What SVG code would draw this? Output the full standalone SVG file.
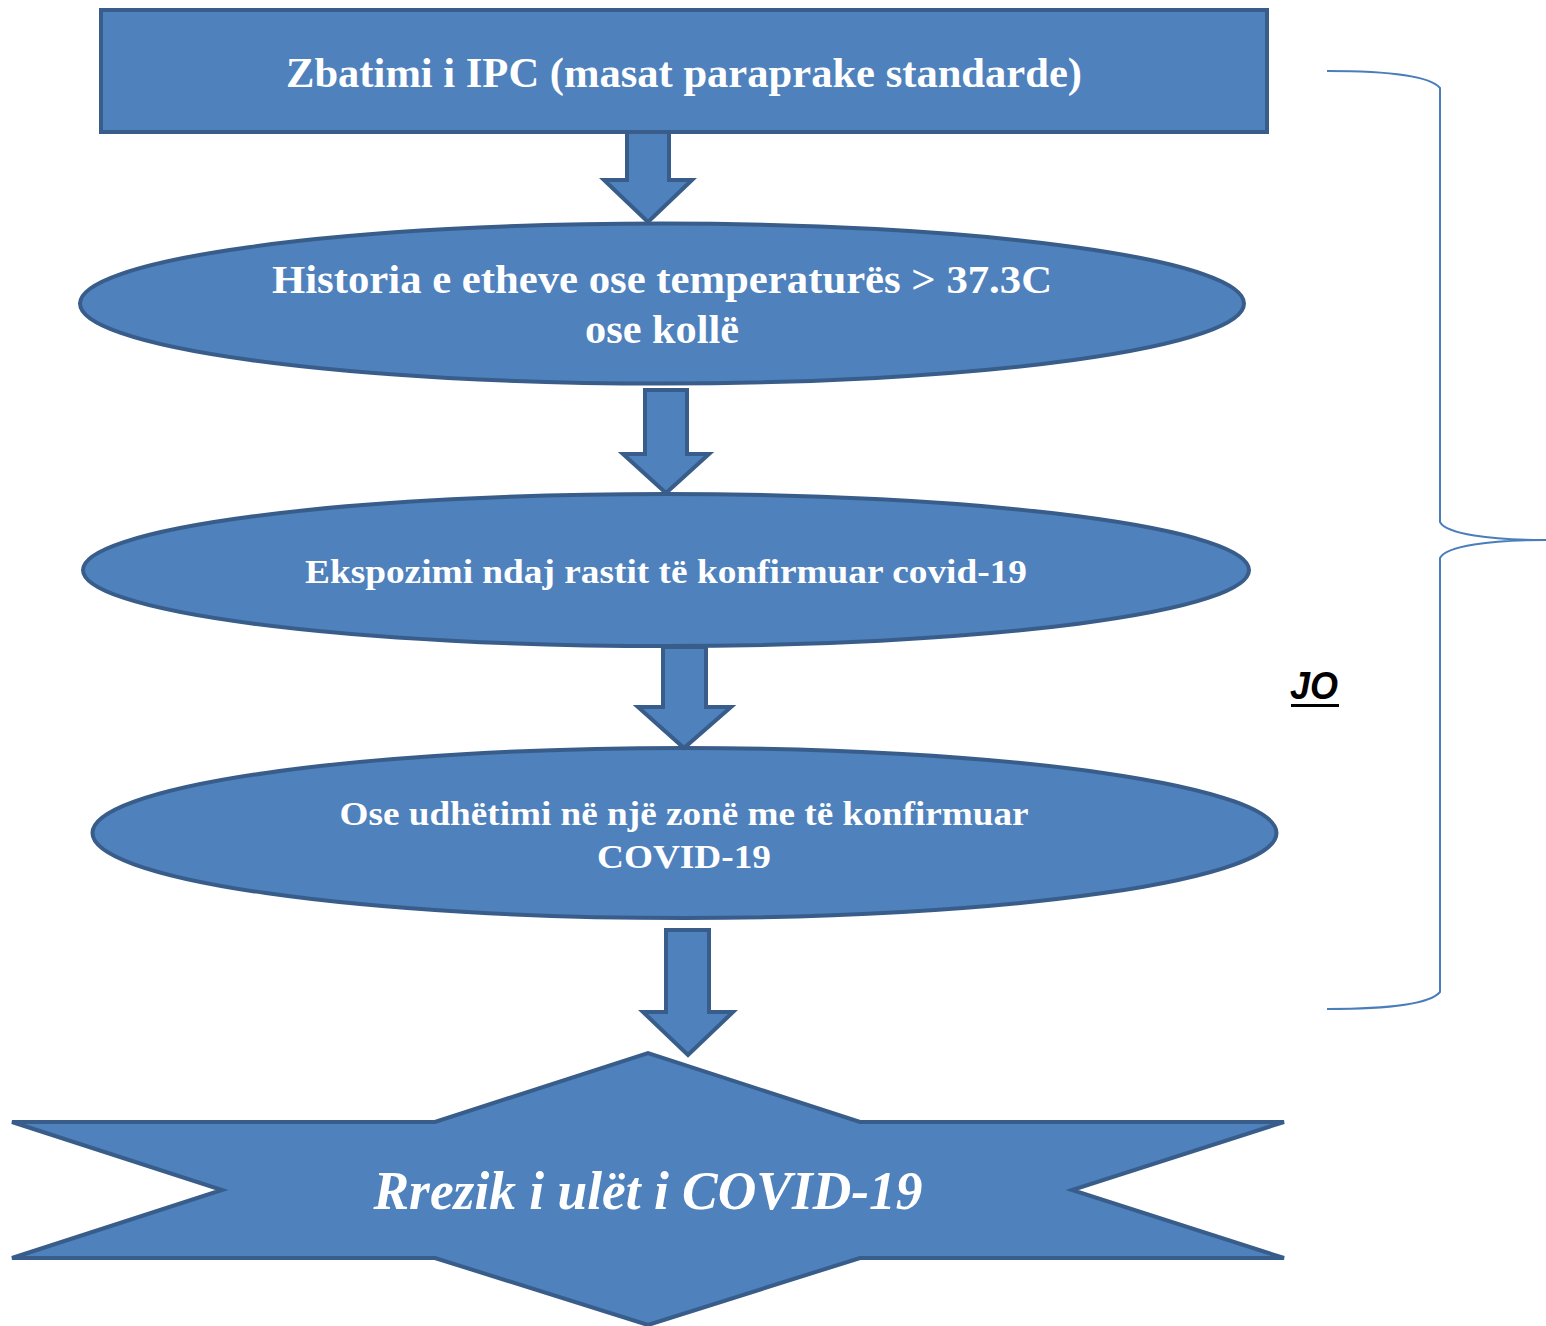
<svg xmlns="http://www.w3.org/2000/svg" width="1546" height="1326" viewBox="0 0 1546 1326">
<style>
.shape{fill:#4f81bd;stroke:#385d8a;stroke-width:4;stroke-linejoin:miter}
.arrow{fill:#4f81bd;stroke:#385d8a;stroke-width:4;stroke-linejoin:miter}
.t{font-family:"Liberation Serif","Times New Roman",serif;font-weight:bold;fill:#ffffff;text-anchor:middle}
.brace{fill:none;stroke:#4a7ebb;stroke-width:2}
</style>
<rect width="1546" height="1326" fill="#ffffff"/>
<g id="node-ipc">
<rect class="shape" x="101" y="10" width="1166" height="122"/>
<text class="t" x="684" y="87" font-size="42" textLength="796" lengthAdjust="spacingAndGlyphs">Zbatimi i IPC (masat paraprake standarde)</text>
</g>
<g id="node-historia">
<ellipse class="shape" cx="662" cy="303.5" rx="582" ry="80"/>
<text class="t" x="662" y="293" font-size="40" textLength="780" lengthAdjust="spacingAndGlyphs">Historia e etheve ose temperaturës &gt; 37.3C</text>
<text class="t" x="662" y="343" font-size="40" textLength="154" lengthAdjust="spacingAndGlyphs">ose kollë</text>
</g>
<g id="node-ekspozimi">
<ellipse class="shape" cx="666" cy="570" rx="583" ry="76"/>
<text class="t" x="666" y="583" font-size="34" textLength="722" lengthAdjust="spacingAndGlyphs">Ekspozimi ndaj rastit të konfirmuar covid-19</text>
</g>
<g id="node-udhetimi">
<ellipse class="shape" cx="684.5" cy="833" rx="592" ry="85"/>
<text class="t" x="684" y="825" font-size="34" textLength="689" lengthAdjust="spacingAndGlyphs">Ose udhëtimi në një zonë me të konfirmuar</text>
<text class="t" x="684" y="868" font-size="34" textLength="174" lengthAdjust="spacingAndGlyphs">COVID-19</text>
</g>
<g id="node-rrezik">
<polygon class="shape" points="12,1122 435,1122 648,1053 860,1122 1284,1122 1072,1190 1284,1258 860,1258 648,1325 435,1258 12,1258 222,1190"/>
<text class="t" x="648" y="1209" font-size="54" font-style="italic" textLength="549" lengthAdjust="spacingAndGlyphs">Rrezik i ulët i COVID-19</text>
</g>
<g id="label-jo">
<text x="1314" y="699" font-family="'Liberation Sans',Arial,sans-serif" font-weight="bold" font-style="italic" font-size="39" text-anchor="middle" fill="#000000" textLength="48" lengthAdjust="spacingAndGlyphs">JO</text>
<rect x="1291" y="704" width="48" height="3" fill="#000000"/>
</g>
<g id="connectors">
<polygon class="arrow" points="627,132 669,132 669,180 692,180 648,222 604,180 627,180"/>
<polygon class="arrow" points="645,390 687,390 687,454 709,454 666,493 623,454 645,454"/>
<polygon class="arrow" points="663,647 706,647 706,707 731,707 684,748 638,707 663,707"/>
<polygon class="arrow" points="666,930 709,930 709,1012 733,1012 688,1055 643,1012 666,1012"/>
<path class="brace" d="M1327,71 C1390,71 1430,76 1440,88 L1440,522 C1446,534 1490,540 1546,540 C1490,540 1446,546 1440,558 L1440,992 C1430,1004 1390,1009 1327,1009"/>
</g>
</svg>
